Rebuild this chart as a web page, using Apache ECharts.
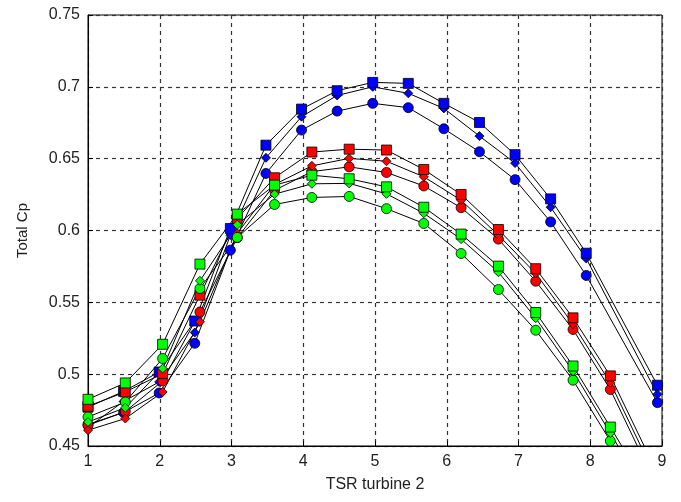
<!DOCTYPE html>
<html>
<head>
<meta charset="utf-8">
<script src="https://cdn.jsdelivr.net/npm/echarts@6/dist/echarts.min.js"></script>
<style>html,body{margin:0;padding:0;background:#fff;}#c{width:681px;height:502px;}</style>
</head>
<body>
<div id="c"></div>
<script>
const xTicks = [1, 2, 3, 4, 5, 6, 7, 8, 9];
const yTicks = [0.45, 0.5, 0.55, 0.6, 0.65, 0.7, 0.75];

const blueX = [1, 1.496, 1.992, 2.488, 2.984, 3.48, 3.976, 4.472, 4.968, 5.464, 5.96, 6.456, 6.952, 7.448, 7.944, 8.936];
const redX = [1, 1.52, 2.04, 2.56, 3.08, 3.6, 4.12, 4.64, 5.16, 5.68, 6.2, 6.72, 7.24, 7.76, 8.28, 8.8];
const greenX = [1, 1.52, 2.04, 2.56, 3.08, 3.6, 4.12, 4.64, 5.16, 5.68, 6.2, 6.72, 7.24, 7.76, 8.28, 8.8];

const blueSquare  = [0.477, 0.488, 0.5015, 0.537, 0.6014, 0.6594, 0.6845, 0.6973, 0.7031, 0.7024, 0.6885, 0.6752, 0.6528, 0.622, 0.5842, 0.4923];
const blueDiamond = [0.463, 0.481, 0.4946, 0.529, 0.5968, 0.6506, 0.6792, 0.694, 0.700, 0.6955, 0.685, 0.6657, 0.6469, 0.6162, 0.5805, 0.486];
const blueCircle  = [0.465, 0.4733, 0.4869, 0.5215, 0.5863, 0.6397, 0.6699, 0.6831, 0.6885, 0.6855, 0.6708, 0.6548, 0.6354, 0.606, 0.5687, 0.4802];

const redSquare  = [0.4777, 0.4876, 0.5004, 0.555, 0.6084, 0.6367, 0.6546, 0.6566, 0.656, 0.6425, 0.6251, 0.6007, 0.5734, 0.5392, 0.4988, 0.445];
const redDiamond = [0.461, 0.4691, 0.4876, 0.5364, 0.598, 0.632, 0.645, 0.6502, 0.6482, 0.6374, 0.6211, 0.5968, 0.5701, 0.5348, 0.494, 0.44];
const redCircle  = [0.4644, 0.474, 0.4953, 0.5433, 0.595, 0.628, 0.641, 0.6443, 0.6404, 0.631, 0.6159, 0.594, 0.5647, 0.5311, 0.4893, 0.435];

const greenSquare  = [0.4825, 0.4939, 0.5208, 0.5766, 0.6114, 0.6316, 0.6385, 0.636, 0.6304, 0.6162, 0.5975, 0.5752, 0.5429, 0.5057, 0.4632, 0.42];
const greenDiamond = [0.4667, 0.4767, 0.5039, 0.565, 0.604, 0.6253, 0.6325, 0.6328, 0.6255, 0.612, 0.594, 0.571, 0.539, 0.502, 0.459, 0.415];
const greenCircle  = [0.4702, 0.4806, 0.5109, 0.5596, 0.5952, 0.6181, 0.623, 0.6237, 0.6152, 0.6049, 0.584, 0.5589, 0.5306, 0.4958, 0.4535, 0.41];

function pairs(xs, ys) { return ys.map((y, i) => [xs[i], y]); }

const symbolSize = { rect: 10, circle: 10, diamond: 9 };
function mk(name, xs, ys, color, symbol) {
  return {
    name: name, type: 'line', data: pairs(xs, ys),
    symbol: symbol, symbolSize: symbolSize[symbol],
    showAllSymbol: true, clip: true,
    lineStyle: { color: '#000', width: 1 },
    itemStyle: { color: color, borderColor: '#000', borderWidth: 0.8 },
    emphasis: { disabled: true }, animation: false
  };
}

const FONT = 'Liberation Sans, Arial, sans-serif';
const chart = echarts.init(document.getElementById('c'), null, { renderer: 'canvas' });
chart.setOption({
  backgroundColor: '#fff',
  animation: false,
  grid: { left: 88, right: 19, top: 15, bottom: 56, show: true, borderColor: '#000', borderWidth: 1, backgroundColor: 'transparent' },
  xAxis: {
    type: 'value', min: xTicks[0], max: xTicks[xTicks.length - 1], interval: 1,
    name: 'TSR turbine 2', nameLocation: 'middle', nameGap: 31,
    nameTextStyle: { fontFamily: FONT, fontSize: 16, color: '#222' },
    axisLine: { lineStyle: { color: '#000', width: 1 } },
    axisTick: { inside: true, length: 5, lineStyle: { color: '#000' } },
    axisLabel: { fontFamily: FONT, fontSize: 16, color: '#222', margin: 8, formatter: v => String(v) },
    splitLine: { show: true, lineStyle: { color: '#333', type: [4, 4], width: 1.2 } }
  },
  yAxis: {
    type: 'value', min: yTicks[0], max: yTicks[yTicks.length - 1], interval: 0.05,
    name: 'Total Cp', nameLocation: 'middle', nameGap: 58, nameRotate: 90,
    nameTextStyle: { fontFamily: FONT, fontSize: 15, color: '#222' },
    axisLine: { show: true, lineStyle: { color: '#000', width: 1 } },
    axisTick: { show: true, inside: true, length: 5, lineStyle: { color: '#000' } },
    axisLabel: { fontFamily: FONT, fontSize: 16, color: '#222', margin: 8, formatter: v => String(+v.toFixed(2)) },
    splitLine: { show: true, lineStyle: { color: '#333', type: [4, 4], width: 1.2 } }
  },
  series: [
    mk('blue circle', blueX, blueCircle, '#0000ff', 'circle'),
    mk('blue diamond', blueX, blueDiamond, '#0000ff', 'diamond'),
    mk('blue square', blueX, blueSquare, '#0000ff', 'rect'),
    mk('red circle', redX, redCircle, '#ff0000', 'circle'),
    mk('red diamond', redX, redDiamond, '#ff0000', 'diamond'),
    mk('red square', redX, redSquare, '#ff0000', 'rect'),
    mk('green circle', greenX, greenCircle, '#00ff00', 'circle'),
    mk('green diamond', greenX, greenDiamond, '#00ff00', 'diamond'),
    mk('green square', greenX, greenSquare, '#00ff00', 'rect')
  ]
});
</script>
</body>
</html>
